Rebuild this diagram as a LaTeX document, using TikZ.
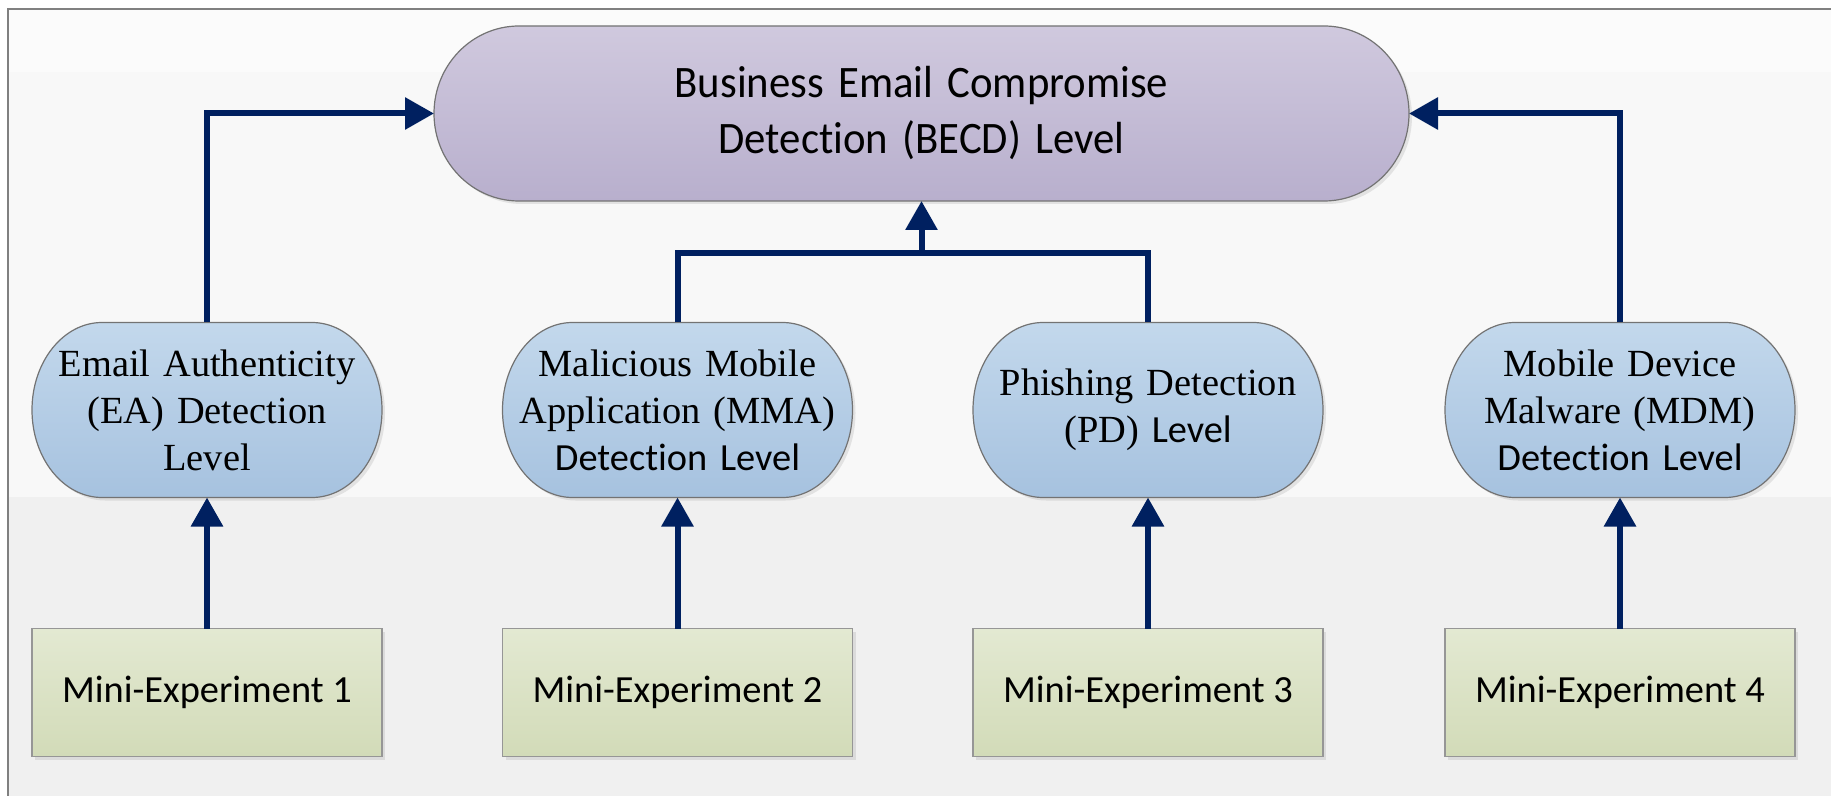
\documentclass[tikz,border=0pt]{standalone}
\usepackage{fontspec}
\setmainfont{Liberation Serif}
\newfontfamily\calib[Ligatures={NoCommon,NoContextual}]{Carlito}
\usetikzlibrary{arrows.meta,backgrounds,shadows}
\definecolor{navy}{RGB}{0,32,96}
\definecolor{becdtop}{RGB}{208,201,222}
\definecolor{becdbot}{RGB}{184,175,205}
\definecolor{lvltop}{RGB}{195,216,236}
\definecolor{lvlbot}{RGB}{166,194,223}
\definecolor{mtop}{RGB}{227,233,210}
\definecolor{mbot}{RGB}{210,219,184}
\definecolor{pillborder}{RGB}{115,115,115}
\definecolor{boxborder}{RGB}{150,150,150}
\definecolor{framegray}{RGB}{128,128,128}
\definecolor{bgA}{RGB}{251,251,251}
\definecolor{bgB}{RGB}{248,248,248}
\definecolor{bgC}{RGB}{240,240,240}
\newcommand{\pillpath}[4]{%
  \path[#4] ([xshift=#3]#1.north west) -- ([xshift=-#3]#1.north east)
    arc[start angle=90,end angle=-90,x radius=#2,y radius=87.5]
    -- ([xshift=#3]#1.south west)
    arc[start angle=270,end angle=90,x radius=#2,y radius=87.5] -- cycle;}
\begin{document}
\begin{tikzpicture}[x=0.5pt,y=0.5pt,
  conn/.style={draw=navy,line width=3pt},
  arr/.style={conn,-{Triangle[length=14.5pt,width=15.5pt]}},
  shad/.style={drop shadow={shadow xshift=1.5pt,shadow yshift=-1.5pt,opacity=0.18}},
  topnode/.style={inner sep=0pt,outer sep=0pt,minimum width=487.5pt,minimum height=87.5pt,
    text width=400pt,align=center,font=\calib\fontsize{22.5}{28}\selectfont},
  lvl/.style={inner sep=0pt,outer sep=0pt,minimum width=175pt,minimum height=87.5pt,
    text width=170pt,align=center,font=\fontsize{19.2}{23.5}\selectfont},
  becdshape/.style={draw=pillborder,line width=0.6pt,top color=becdtop,bottom color=becdbot,shad},
  lvlshape/.style={draw=pillborder,line width=0.6pt,top color=lvltop,bottom color=lvlbot,shad},
  mini/.style={draw=boxborder,line width=0.7pt,top color=mtop,bottom color=mbot,
    inner sep=0pt,outer sep=0pt,minimum width=175pt,minimum height=64pt,
    font=\calib\fontsize{19.2}{23}\selectfont,shad},
]
\useasboundingbox (0,0) rectangle (1831,-796);

% nodes (text)
\node[topnode] (becd) at (921.5,-113.5) {\scalebox{0.95}[1]{Business Email Compromise}\\\scalebox{0.95}[1]{Detection (BECD) Level}};
\node[lvl] (ea) at (207,-410) {Email Authenticity\\(EA) Detection\\Level};
\node[lvl] (mma) at (677.5,-410) {Malicious Mobile\\Application (MMA)\\{\calib Detection Level}};
\node[lvl] (pd) at (1148,-410) {Phishing Detection\\(PD) {\calib Level}};
\node[lvl] (mdm) at (1620,-410) {Mobile Device\\Malware (MDM)\\{\calib Detection Level}};

\node[mini] (m1) at (207,-692.5) {Mini-Experiment 1};
\node[mini] (m2) at (677.5,-692.5) {Mini-Experiment 2};
\node[mini] (m3) at (1148,-692.5) {Mini-Experiment 3};
\node[mini] (m4) at (1620,-692.5) {Mini-Experiment 4};

\begin{scope}[on background layer]
  \fill[white] (0,0) rectangle (1831,-796);
  \fill[bgA] (8,-10) rectangle (1831,-72);
  \fill[bgB] (8,-72) rectangle (1831,-497);
  \fill[bgC] (8,-497) rectangle (1831,-796);
  \draw[framegray,line width=1pt] (8,-796) -- (8,-9.5) -- (1831,-9.5);
  \pillpath{becd}{85}{42.5pt}{becdshape}
  \pillpath{ea}{70}{35pt}{lvlshape}
  \pillpath{mma}{70}{35pt}{lvlshape}
  \pillpath{pd}{70}{35pt}{lvlshape}
  \pillpath{mdm}{70}{35pt}{lvlshape}
\end{scope}

% connectors
\coordinate (j) at (921.5,-253);
\draw[arr] (ea.north) |- (becd.west);
\draw[arr] (mdm.north) |- (becd.east);
\draw[conn] (mma.north) |- (pd.north |- j) -- (pd.north);
\draw[arr] (j) -- (becd.south);
\draw[arr] (m1) -- (ea);
\draw[arr] (m2) -- (mma);
\draw[arr] (m3) -- (pd);
\draw[arr] (m4) -- (mdm);
\end{tikzpicture}
\end{document}
